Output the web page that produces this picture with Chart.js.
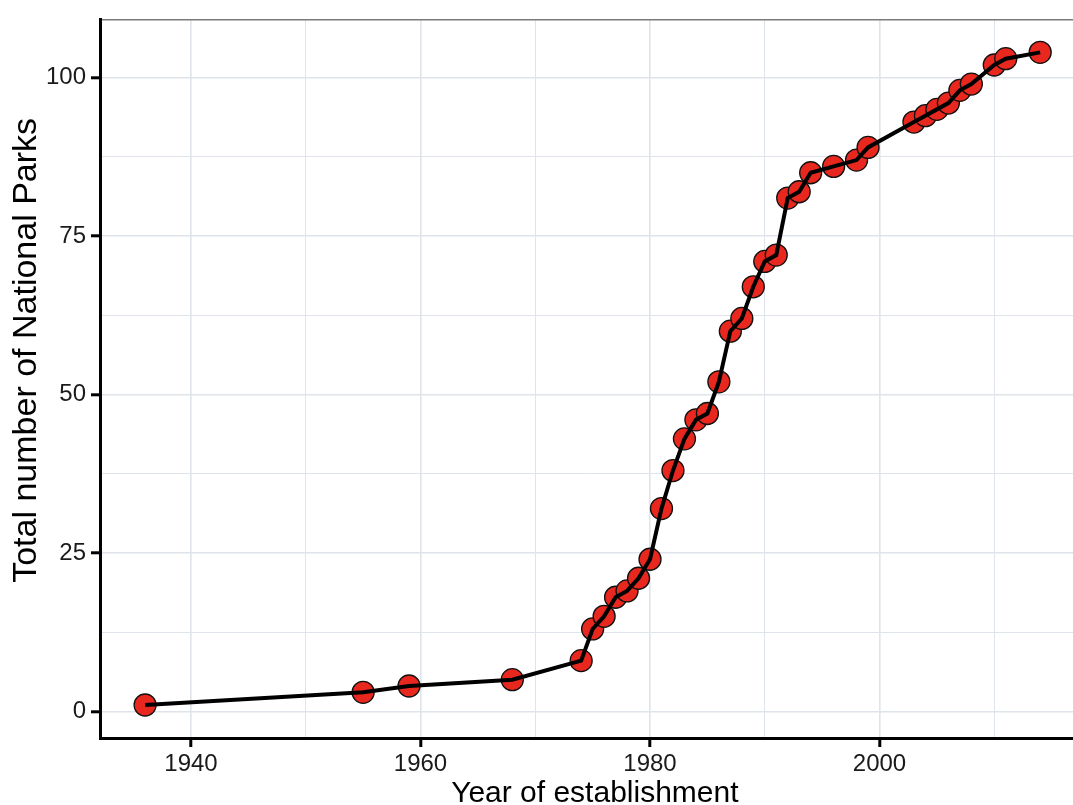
<!DOCTYPE html>
<html>
<head>
<meta charset="utf-8">
<script src="https://cdn.jsdelivr.net/npm/chart.js@4"></script>
<style>
  html, body { margin: 0; padding: 0; background: #fff; }
  #wrap { width: 1073px; height: 805px; }
</style>
</head>
<body>
<div id="wrap"><canvas id="grafico" width="1073" height="805"></canvas></div>
<script>
// year each park was established and the running total
const anos = [1936, 1955, 1959, 1968, 1974, 1975, 1976, 1977, 1978, 1979, 1980, 1981, 1982, 1983, 1984, 1985,
  1986, 1987, 1988, 1989, 1990, 1991, 1992, 1993, 1994, 1996, 1998, 1999, 2003, 2004, 2005, 2006, 2007, 2008,
  2010, 2011, 2014];
const totais = [1, 3, 4, 5, 8, 13, 15, 18, 19, 21, 24, 32, 38, 43, 46, 47,
  52, 60, 62, 67, 71, 72, 81, 82, 85, 86, 87, 89, 93, 94, 95, 96, 98, 99,
  102, 103, 104];

const xMajor = [1940, 1960, 1980, 2000];
const xMinor = [1950, 1970, 1990, 2010];
const yMajor = [0, 25, 50, 75, 100];
const yMinor = [12.5, 37.5, 62.5, 87.5];

const pontos = anos.map((ano, i) => ({ x: ano, y: totais[i] }));

const corGrade = '#dfe3ea';
const fonte = "'Liberation Sans', Arial, sans-serif";

const canva = document.getElementById('grafico');

new Chart(canva, {
  type: 'line',
  data: {
    datasets: [{
      // line first so it sits on top of the points
      data: pontos,
      borderColor: '#000',
      borderWidth: 4,
      pointRadius: 0,
      tension: 0
    }, {
      data: pontos,
      showLine: false,
      pointRadius: 11,
      pointBackgroundColor: '#e8281f',
      pointBorderColor: '#111',
      pointBorderWidth: 1.3
    }]
  },
  options: {
    responsive: false,
    animation: false,
    layout: { autoPadding: false, padding: { top: 11, right: 0, bottom: 0, left: 0 } },
    plugins: {
      legend: { display: false },
      tooltip: { enabled: false }
    },
    scales: {
      x: {
        type: 'linear',
        position: 'bottom',
        min: 1932.07,
        max: 2016.86,
        afterBuildTicks: (scale) => {
          scale.ticks = xMajor.concat(xMinor).sort((a, b) => a - b).map(v => ({ value: v }));
        },
        afterFit: (scale) => { scale.height = 67; },
        grid: {
          color: corGrade,
          lineWidth: (ctx) => xMajor.includes(ctx.tick.value) ? 1.6 : 1,
          tickLength: 9,
          tickColor: (ctx) => xMajor.includes(ctx.tick.value) ? '#000' : 'rgba(0,0,0,0)',
          tickWidth: 3
        },
        border: { display: true, color: '#000', width: 3 },
        ticks: {
          autoSkip: false,
          maxRotation: 0,
          padding: 3,
          color: '#1a1a1a',
          font: { family: fonte, size: 24 },
          callback: (v) => xMajor.includes(v) ? String(v) : ''
        },
        title: {
          display: true,
          text: '  Year of establishment',
          color: '#000',
          font: { family: fonte, size: 30, lineHeight: 1 },
          padding: { top: 0, bottom: -4 }
        }
      },
      topo: {
        type: 'linear',
        position: 'top',
        min: 1932.07,
        max: 2016.86,
        afterFit: (scale) => { scale.height = 0; },
        grid: { display: false, drawTicks: false },
        ticks: { display: false },
        border: { display: true, color: '#7a7a7a', width: 1.5 }
      },
      y: {
        type: 'linear',
        position: 'left',
        min: -4.21,
        max: 109.2,
        afterBuildTicks: (scale) => {
          scale.ticks = yMajor.concat(yMinor).sort((a, b) => a - b).map(v => ({ value: v }));
        },
        afterFit: (scale) => { scale.width = 100; },
        grid: {
          color: corGrade,
          lineWidth: (ctx) => yMajor.includes(ctx.tick.value) ? 1.6 : 1,
          tickLength: 9,
          tickColor: (ctx) => yMajor.includes(ctx.tick.value) ? '#000' : 'rgba(0,0,0,0)',
          tickWidth: 3
        },
        border: { display: true, color: '#000', width: 3 },
        ticks: {
          autoSkip: false,
          padding: 5,
          color: '#1a1a1a',
          font: { family: fonte, size: 24 },
          callback: (v) => yMajor.includes(v) ? String(v) : ''
        },
        title: {
          display: true,
          text: '      Total number of National Parks',
          color: '#000',
          font: { family: fonte, size: 34, lineHeight: 1 },
          padding: { top: 10, bottom: 0 }
        }
      }
    }
  }
});
</script>
</body>
</html>
